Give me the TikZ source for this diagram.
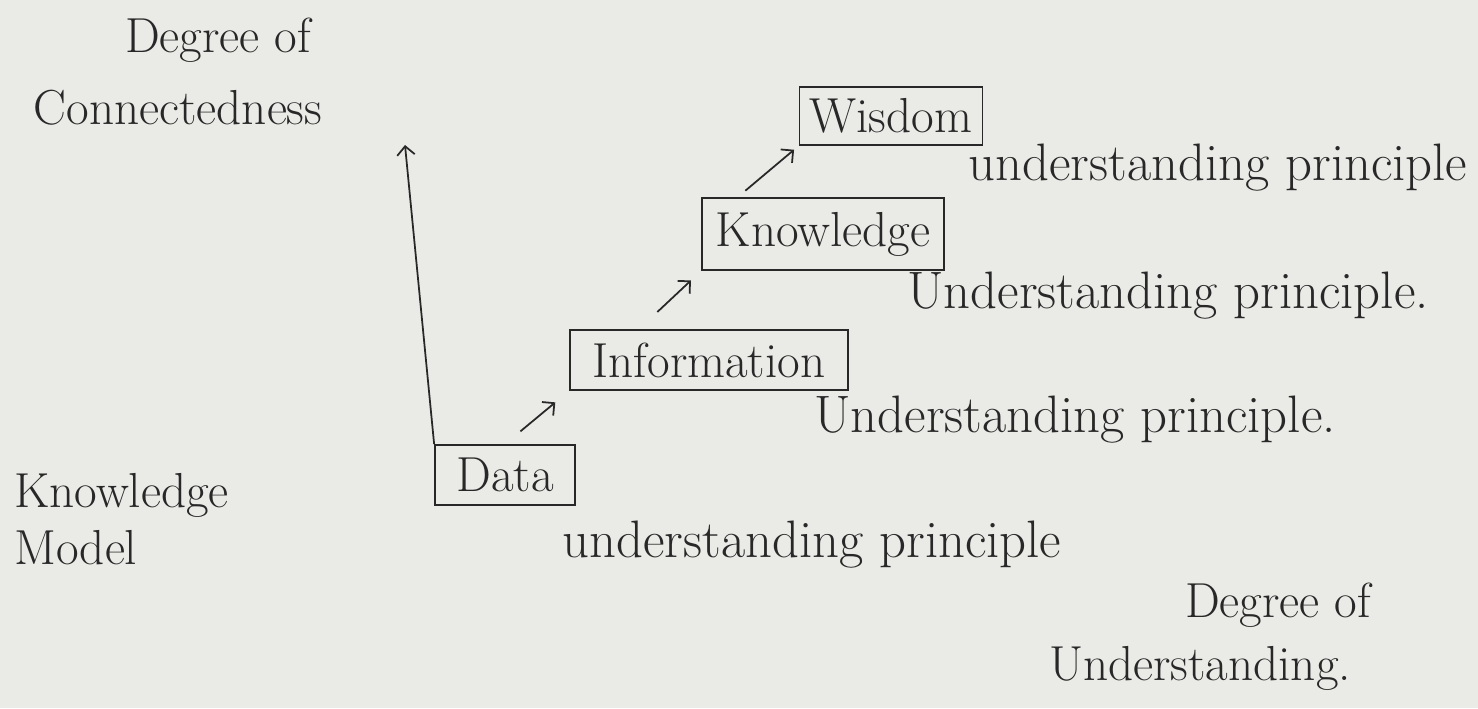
\documentclass[tikz,border=0pt]{standalone}
\usepackage{tikz}
\usetikzlibrary{calc,arrows.meta}
\definecolor{paper}{RGB}{234,234,231}
\definecolor{ink}{RGB}{40,40,40}

\begin{document}
\begin{tikzpicture}[x=0.02cm, y=-0.02cm, font=\fontsize{28}{30}\selectfont,
  box/.style={draw=ink, line width=1pt, minimum height=1.2cm, inner xsep=0.1cm, text=ink},
  lbl/.style={text=ink},
  prin/.style={text=ink, font=\fontsize{30}{32}\selectfont},
  arr/.style={-{Straight Barb[length=5pt, width=10pt]}, draw=ink, line width=1pt}]
\fill[paper] (0,0) rectangle (1478,708);
% the four levels
\node[box, minimum width=2.8cm] (data) at (505,475) {Data};
\node[box, minimum width=5.56cm] (info) at (709,360) {Information};
\node[box, minimum width=4.84cm, minimum height=1.44cm] (know) at (823,234) {Knowledge};
\node[box, minimum width=3.66cm, minimum height=1.16cm] (wis) at (891,116) {Wisdom};
% principles
\node[prin] (p4) at (1218,168) {understanding principle};
\node[prin] (p3) at (1168,296) {Understanding principle.};
\node[prin] (p2) at (1075,420) {Understanding principle.};
\node[prin] (p1) at (812,545) {understanding principle};
% axis texts
\node[lbl] (deg1) at (218,40) {Degree of};
\node[lbl] (conn) at (178,108) {Connectedness};
\node[lbl, anchor=west] (km1) at (8,495) {Knowledge};
\node[lbl, anchor=west] (km2) at (8,548) {Model};
\node[lbl] (deg2) at (1278,605) {Degree of};
\node[lbl] (und) at (1200,668) {Understanding.};
% arrows
\coordinate (top) at (405,145);
\draw[arr] (data.north west) -- (top);
\draw[arr, shorten <=20*0.02cm, shorten >=18*0.02cm] (data.north) -- (info.south west);
\draw[arr, shorten <=25*0.02cm, shorten >=14*0.02cm] ($(info.north)!0.5!(info.north west)$) -- (know.south west);
\draw[arr, shorten <=10*0.02cm, shorten >=6*0.02cm] ($(know.north west)!0.15!(know.north east)$) -- (wis.south west);
\end{tikzpicture}
\end{document}
